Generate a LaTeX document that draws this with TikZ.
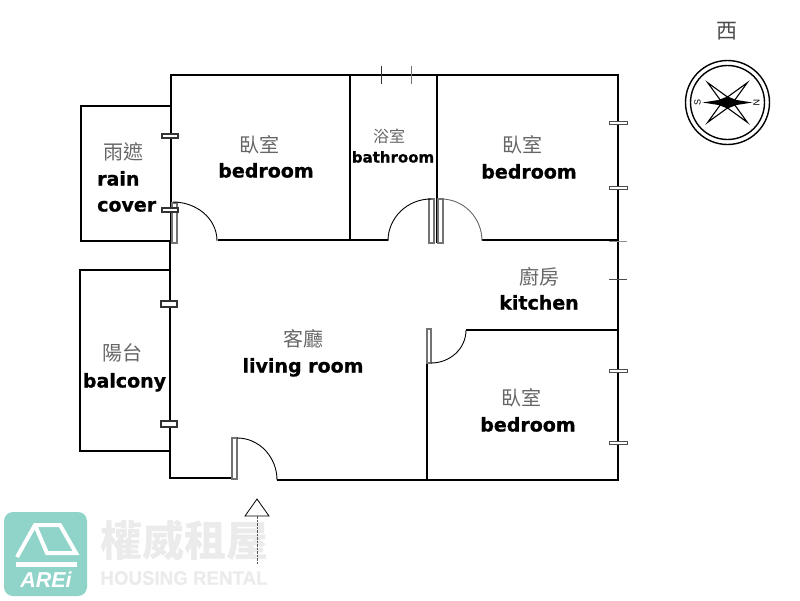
\documentclass[tikz,border=0pt]{standalone}
\usepackage{fontspec}
\setmainfont[BoldFeatures={FakeBold=0.8}]{DejaVu Sans}
\newfontfamily\cjk{Noto Sans CJK TC}
\newfontfamily\logofont[BoldFeatures={FakeBold=0.5}]{Liberation Sans}
\usepackage{tikz}
\tikzset{
  wall/.style={draw=black,line width=2.6pt},
  doorpanel/.style={draw=black!55,fill=white,line width=1.2pt},
  doorarc/.style={draw=black,line width=0.9pt},
  windowbox/.style={draw=black!80,fill=white,line width=1.5pt},
  enname/.style={font=\bfseries\fontsize{19}{19}\selectfont,inner sep=0pt},
  zhname/.style={font=\cjk\fontsize{20}{20}\selectfont,text=black!60,inner sep=0pt},
  markname/.style={font=\cjk\fontsize{21}{21}\selectfont,text=black!70,inner sep=0pt},
  stamp/.style={font=\logofont\bfseries,text=black!8,inner sep=0pt},
}
\definecolor{logoteal}{HTML}{8FD3C9}

\begin{document}
\begin{tikzpicture}[x=1pt,y=-1pt]
\useasboundingbox (0,0) rectangle (800,600);
% logo
\fill[logoteal,rounded corners=9pt] (4,512) rectangle (87,596);
\draw[white,line width=4pt,line join=miter] (17,557) -- (35,525) -- (60,525) -- (76,553) -- (47,553) -- (35,525);
\fill[white] (16,562) rectangle (77,567);
\node[font=\logofont\bfseries\itshape\fontsize{21.5}{22}\selectfont,text=white,inner sep=0pt] (arei) at (46,580) {AREi};
\node[stamp,font=\cjk\bfseries\fontsize{42}{42}\selectfont] (stampzh) at (184,540) {權威租屋};
\node[stamp,font=\logofont\bfseries\fontsize{19.5}{20}\selectfont,xscale=0.96] (stampen) at (184,578) {HOUSING RENTAL};
% outer walls
\draw[wall] (218,240) -- (388,240) (482,240) -- (618,240);
\draw[wall] (171,241) -- (171,75) -- (618,75) -- (618,480) -- (277,480);
\draw[wall] (170,241) -- (170,478) -- (232,478);
\draw[wall] (350,75) -- (350,240) (437,75) -- (437,243);
\draw[wall] (466,330) -- (618,330) (427,330) -- (427,480);
\draw[wall] (170,106) -- (81,106) -- (81,241) -- (170,241);
\draw[wall] (170,270) -- (80,270) -- (80,451) -- (170,451);
\draw[line width=1pt] (169.5,410) -- (169.5,424);
% doors
\foreach \xa/\ya/\xb/\yb/\hx/\hy/\ex/\ey/\ang/\col in {
  172/203/177/243/173/202/217/241/0/black,
  429/199/434/243/431/199/388/241/180/black,
  438/199/443/243/441/199/482/241/0/black!60,
  232/438/237/479/237/438/277/480/0/black}
{
  \draw[doorpanel] (\xa,\ya) rectangle (\xb,\yb);
  \draw[doorarc,draw=\col] (\hx,\hy) to[out=\ang,in=90] (\ex,\ey);
}
\draw[doorpanel] (427,329) rectangle (431,363);
\draw[doorarc] (431,363) to[out=0,in=-90] (466,330);
% windows
\foreach \wy in {136,210} {\draw[windowbox] (162,\wy-2) rectangle (178,\wy+2);}
\foreach \wy in {304,424} {\draw[windowbox] (161,\wy-3) rectangle (177,\wy+3);}
\foreach \wy/\wh in {123/1.5,188/1.5,371/1.5,443/1.5}
{
  \draw[windowbox,draw=black!70,line width=1pt] (609,\wy-\wh) rectangle (627,\wy+\wh);
}
\draw[black!45,line width=1pt] (609,241) -- (627,241);
\draw[black!70,line width=1pt] (609,279) -- (627,279);
\draw[black!80,line width=1pt] (381,66) -- (381,84);
\draw[black!55,line width=1pt] (411,66) -- (411,84);
% entry mark
\draw[black!65,line width=0.9pt,dash pattern=on 2.5pt off 1pt] (257,516) -- (257,565);
\draw[black,fill=white,line width=0.8pt] (257,499) -- (269,516) -- (245,516) -- cycle;
% rooms
\foreach \nm/\px/\py/\txt in {
  zhrain/123/152/雨遮, zhbedA/259/145/臥室, zhbedB/522/145/臥室,
  zhkitchen/539/277/廚房, zhliving/303/339/客廳, zhbalcony/122/353/陽台, zhbedC/521/398/臥室}
{
  \node[zhname] (\nm) at (\px,\py) {\txt};
}
\node[zhname,font=\cjk\fontsize{16}{16}\selectfont] (zhbath) at (389,136) {浴室};
\foreach \nm/\px/\py/\txt in {
  bedA/266/171/bedroom, bedB/529/172/bedroom, kitchen/539/303/kitchen,
  living/303/366/living room, balcony/124.5/381/balcony, bedC/528/425/bedroom}
{
  \node[enname,anchor=base,yshift=-6.5pt] (\nm) at (\px,\py) {\txt};
}
\node[enname,anchor=base west,yshift=-6.5pt] (rain) at (97,179) {rain};
\node[enname,anchor=base west,yshift=-6.5pt] (cover) at (97,205) {cover};
\node[enname,font=\bfseries\fontsize{15}{15}\selectfont,anchor=base,yshift=-5.5pt] (bath) at (393,157) {bathroom};
% compass
\node[markname] (west) at (727,31) {西};
\draw[black,line width=1.4pt] (727.5,102.5) circle[radius=42] circle[radius=37];
\begin{scope}[shift={(727.5,102.5)}]
\foreach \ang in {45,135,225,315}
{
  \draw[black,fill=white,line width=1.1pt,rotate=\ang] (0,-4.5) -- (28,0) -- (0,4.5) -- cycle;
}
\fill[black] (-25,0) -- (-9,-2.5) -- (0,-6) -- (9,-2.5) -- (25,0) -- (9,2.5) -- (0,6) -- (-9,2.5) -- cycle;
\node[font=\logofont\fontsize{9}{9}\selectfont,rotate=90,inner sep=0pt] (south) at (-30,0) {S};
\node[font=\logofont\fontsize{9}{9}\selectfont,rotate=-90,inner sep=0pt] (north) at (29,0) {N};
\end{scope}
\end{tikzpicture}
\end{document}
